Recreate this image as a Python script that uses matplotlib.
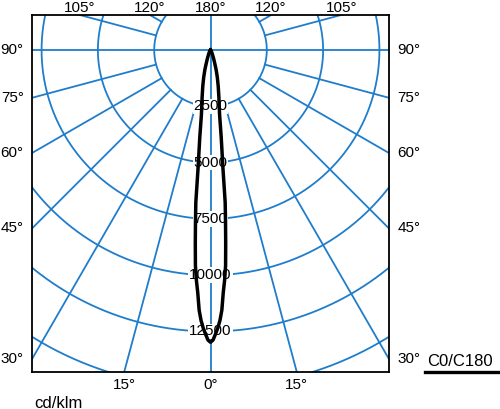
import numpy as np
import matplotlib
matplotlib.use("Agg")
import matplotlib.pyplot as plt
from matplotlib.lines import Line2D

plt.rcParams['font.family'] = ['Liberation Sans', 'DejaVu Sans']

# luminous intensity (cd/klm) against angle from the downward axis, C0/C180 plane
angles_deg = [0, 0.5, 1, 1.5, 2, 2.5, 3, 3.5, 4, 4.5, 5, 5.5, 6, 7, 8, 9, 10, 12, 14,
              16, 18, 20, 25, 30, 40, 60, 90]
intensity = [12980, 12880, 12620, 12350, 12020, 11560, 10800, 10250, 9600, 8600, 7650,
             6800, 5300, 3900, 2900, 2450, 2150, 1650, 1250, 900, 580, 400, 180, 90,
             30, 5, 0]

ring_values = [2500, 5000, 7500, 10000, 12500, 15000, 17500]
ring_labels = ["2500", "5000", "7500", "10000", "12500"]
spoke_angles = [15, 30, 45, 60, 75, 105, 120, 135, 150, 165]
side_labels = [90, 75, 60, 45, 30]
top_labels = [105, 120, 180]
bottom_labels = [15, 0]

grid_blue = "#1f7dcb"

fig = plt.figure(figsize=(5.0, 4.09), dpi=100)
ax = fig.add_axes([32 / 500, 37 / 409, 357 / 500, 357 / 409])
xmax = 7925
ytop, ybot = -1554, 14300
ax.set_xlim(-xmax, xmax)
ax.set_ylim(ybot, ytop)
ax.set_xticks([])
ax.set_yticks([])
for s in ax.spines.values():
    s.set_linewidth(1.3)
    s.set_color("black")

# rings
t = np.linspace(0, 2 * np.pi, 721)
for r in ring_values:
    ax.plot(r * np.sin(t), r * np.cos(t), color=grid_blue, lw=1.3, zorder=1)

# spokes from the first ring outward
for a in spoke_angles:
    for sgn in (-1, 1):
        th = np.radians(a) * sgn
        ax.plot([2500 * np.sin(th), 30000 * np.sin(th)],
                [2500 * np.cos(th), 30000 * np.cos(th)],
                color=grid_blue, lw=1.3, zorder=1)
ax.axhline(0, color=grid_blue, lw=1.3, zorder=1)
ax.axvline(0, color=grid_blue, lw=1.3, zorder=1)

# ring values along the axis
for r, lab in zip(ring_values, ring_labels):
    ax.text(0, r, lab, ha="center", va="center", fontsize=11, zorder=4,
            bbox=dict(facecolor="white", edgecolor="none", pad=0.6))

# intensity curve
th = np.radians(np.array(angles_deg))
I = np.array(intensity, dtype=float)
th_full = np.concatenate([-th[::-1], th[1:]])
I_full = np.concatenate([I[::-1], I[1:]])
ax.plot(I_full * np.sin(th_full), I_full * np.cos(th_full), color="black",
        lw=2.5, zorder=5, solid_joinstyle="round")

# angle labels on the sides
for a in side_labels:
    y = 0 if a == 90 else xmax / np.tan(np.radians(a))
    ax.annotate(f"{a}°", xy=(-xmax, y), xytext=(-6, 0), textcoords="offset points",
                ha="right", va="center", fontsize=11, annotation_clip=False)
    ax.annotate(f"{a}°", xy=(xmax, y), xytext=(6, 0), textcoords="offset points",
                ha="left", va="center", fontsize=11, annotation_clip=False)

for a in top_labels:
    xs = [0] if a == 180 else [ytop * np.tan(np.radians(a)), -ytop * np.tan(np.radians(a))]
    for x in xs:
        ax.annotate(f"{a}°", xy=(x, ytop), xytext=(0, 0), textcoords="offset points",
                    ha="center", va="bottom", fontsize=11, annotation_clip=False)

for a in bottom_labels:
    xs = [0] if a == 0 else [-ybot * np.tan(np.radians(a)), ybot * np.tan(np.radians(a))]
    for x in xs:
        ax.annotate(f"{a}°", xy=(x, ybot), xytext=(0, -4), textcoords="offset points",
                    ha="center", va="top", fontsize=11, annotation_clip=False)

fig.text(34 / 500, 1 - 403 / 409, "cd/klm", ha="left", va="center", fontsize=12)
fig.text(427 / 500, 1 - 361 / 409, "C0/C180", ha="left", va="center", fontsize=12)
fig.add_artist(Line2D([425 / 500, 498 / 500], [1 - 372 / 409, 1 - 372 / 409],
                      color="black", lw=2.4, transform=fig.transFigure))

fig.savefig("out.png", dpi=100)
